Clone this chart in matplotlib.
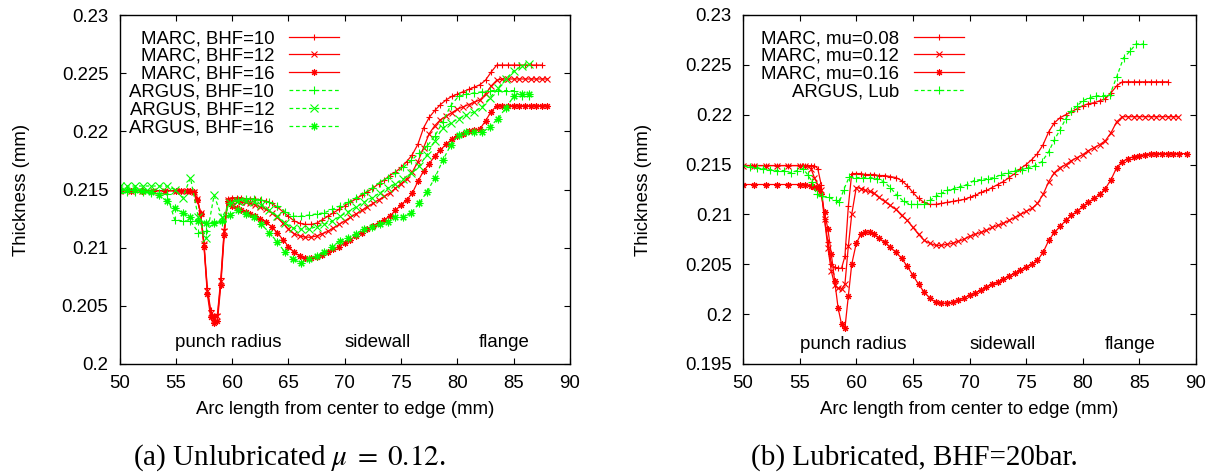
import matplotlib
matplotlib.use('Agg')
import matplotlib.pyplot as plt
from matplotlib.ticker import FuncFormatter, MultipleLocator

plt.rcParams['font.family'] = ['Liberation Sans', 'DejaVu Sans']
plt.rcParams['mathtext.fontset'] = 'stix'

# ---------------- data ----------------
# common MARC mesh positions (arc length, mm)
x_marc = [50, 51, 52, 53, 54, 55, 55.5, 56, 56.3, 56.6,
          56.9, 57.2, 57.5, 57.8, 58.1, 58.4, 58.7, 59.0, 59.3, 59.6,
          60.0, 60.4, 60.8, 61.2, 61.6, 62.0, 62.5, 63.0, 63.5, 64.0,
          64.5, 65.0, 65.5, 66.0, 66.5, 67.0, 67.5, 68.0, 68.5, 69.0,
          69.5, 70.0, 70.5, 71.0, 71.5, 72.0, 72.5, 73.0, 73.5, 74.0,
          74.5, 75.0, 75.5, 76.0, 76.5, 77.0, 77.5, 78.0, 78.5, 79.0,
          79.5, 80.0, 80.5, 81.0, 81.5, 82.0, 82.5, 83.0, 83.5, 84.0,
          84.5, 85.0, 85.5, 86.0, 86.5, 87.0, 87.5]

# ---- panel (a): unlubricated ----
a_marc_bhf10 = [0.2149, 0.2149, 0.2149, 0.2149, 0.2149, 0.2149, 0.2149, 0.2149, 0.2149, 0.2148,
                0.2142, 0.2130, 0.2104, 0.2065, 0.2046, 0.2041, 0.2043, 0.2074, 0.2116, 0.2142,
                0.2143, 0.2143, 0.2143, 0.2142, 0.2142, 0.2142, 0.2141, 0.2140, 0.2138, 0.2135,
                0.2131, 0.2127, 0.2123, 0.2121, 0.2120, 0.2120, 0.2121, 0.2124, 0.2127, 0.2130,
                0.2133, 0.2136, 0.2139, 0.2142, 0.2145, 0.2148, 0.2151, 0.2155, 0.2158, 0.2162,
                0.2165, 0.2169, 0.2174, 0.2180, 0.2189, 0.2203, 0.2212, 0.2218, 0.2223, 0.2227,
                0.2230, 0.2232, 0.2234, 0.2236, 0.2238, 0.2240, 0.2244, 0.2251, 0.2257, 0.2257,
                0.2257, 0.2257, 0.2257, 0.2257, 0.2257, 0.2257, 0.2257]
a_marc_bhf12 = [0.2149, 0.2149, 0.2149, 0.2149, 0.2149, 0.2149, 0.2149, 0.2149, 0.2149, 0.2148,
                0.2142, 0.2130, 0.2103, 0.2063, 0.2044, 0.2039, 0.2041, 0.2071, 0.2114, 0.2141,
                0.2140, 0.2140, 0.2139, 0.2139, 0.2138, 0.2137, 0.2135, 0.2133, 0.2130, 0.2126,
                0.2121, 0.2116, 0.2112, 0.2110, 0.2109, 0.2109, 0.2110, 0.2112, 0.2114, 0.2117,
                0.2120, 0.2123, 0.2126, 0.2129, 0.2132, 0.2135, 0.2138, 0.2141, 0.2144, 0.2147,
                0.2151, 0.2155, 0.2159, 0.2165, 0.2174, 0.2186, 0.2198, 0.2205, 0.2210, 0.2213,
                0.2216, 0.2219, 0.2221, 0.2223, 0.2225, 0.2227, 0.2232, 0.2239, 0.2244, 0.2245,
                0.2245, 0.2245, 0.2245, 0.2245, 0.2245, 0.2245, 0.2245, 0.2245]
a_marc_bhf16 = [0.2149, 0.2149, 0.2149, 0.2149, 0.2149, 0.2149, 0.2149, 0.2149, 0.2149, 0.2148,
                0.2141, 0.2129, 0.2101, 0.2060, 0.2040, 0.2035, 0.2037, 0.2068, 0.2111, 0.2140,
                0.2136, 0.2134, 0.2132, 0.2131, 0.2129, 0.2127, 0.2125, 0.2122, 0.2118, 0.2113,
                0.2107, 0.2101, 0.2096, 0.2093, 0.2091, 0.2091, 0.2092, 0.2094, 0.2096, 0.2099,
                0.2101, 0.2104, 0.2107, 0.2110, 0.2113, 0.2116, 0.2119, 0.2121, 0.2124, 0.2127,
                0.2132, 0.2137, 0.2141, 0.2147, 0.2157, 0.2166, 0.2172, 0.2179, 0.2184, 0.2189,
                0.2193, 0.2196, 0.2198, 0.2200, 0.2201, 0.2202, 0.2209, 0.2217, 0.2222, 0.2222,
                0.2222, 0.2222, 0.2222, 0.2222, 0.2222, 0.2222, 0.2222, 0.2222]
a_marc_tail = [88.0]

x_argus_a = [50.0, 50.7, 51.4, 52.1, 52.8, 53.5, 54.2, 54.9, 55.6, 56.3,
             57.0, 57.7, 58.4, 59.1, 59.8, 60.5, 61.2, 61.9, 62.6, 63.3,
             64.0, 64.7, 65.4, 66.1, 66.8, 67.5, 68.2, 68.9, 69.6, 70.3,
             71.0, 71.7, 72.4, 73.1, 73.8, 74.5, 75.2, 75.9, 76.6, 77.3,
             78.0, 78.7, 79.4, 80.1, 80.8, 81.5, 82.2, 82.9, 83.6, 84.3,
             85.0, 85.7, 86.4]
a_argus_bhf10 = [0.2147, 0.2148, 0.2148, 0.2148, 0.2147, 0.2147, 0.2146, 0.2124, 0.2123, 0.2123,
                 0.2113, 0.2114, 0.2122, 0.2122, 0.2138, 0.2141, 0.2142, 0.2142, 0.2141, 0.2139,
                 0.2136, 0.2131, 0.2127, 0.2127, 0.2128, 0.2129, 0.2130, 0.2133, 0.2136, 0.2139,
                 0.2143, 0.2147, 0.2151, 0.2156, 0.2160, 0.2164, 0.2169, 0.2175, 0.2181, 0.2187,
                 0.2196, 0.2208, 0.2222, 0.2230, 0.2232, 0.2233, 0.2234, 0.2235, 0.2235, 0.2235,
                 0.2235, 0.2230, 0.2230]
a_argus_bhf12 = [0.2153, 0.2153, 0.2153, 0.2153, 0.2153, 0.2153, 0.2153, 0.2150, 0.2143, 0.2160,
                 0.2126, 0.2108, 0.2145, 0.2126, 0.2138, 0.2140, 0.2140, 0.2139, 0.2137, 0.2132,
                 0.2127, 0.2121, 0.2117, 0.2116, 0.2116, 0.2118, 0.2120, 0.2123, 0.2127, 0.2131,
                 0.2135, 0.2139, 0.2143, 0.2147, 0.2151, 0.2155, 0.2159, 0.2164, 0.2170, 0.2180,
                 0.2192, 0.2203, 0.2207, 0.2211, 0.2214, 0.2217, 0.2221, 0.2229, 0.2237, 0.2245,
                 0.2252, 0.2256, 0.2258]
a_argus_bhf16 = [0.2150, 0.2150, 0.2150, 0.2149, 0.2148, 0.2145, 0.2140, 0.2134, 0.2130, 0.2126,
                 0.2123, 0.2121, 0.2121, 0.2123, 0.2128, 0.2132, 0.2129, 0.2126, 0.2120, 0.2113,
                 0.2105, 0.2096, 0.2090, 0.2087, 0.2090, 0.2093, 0.2096, 0.2101, 0.2106, 0.2108,
                 0.2112, 0.2116, 0.2118, 0.2120, 0.2122, 0.2126, 0.2126, 0.2130, 0.2138, 0.2148,
                 0.2160, 0.2175, 0.2188, 0.2197, 0.2199, 0.2199, 0.2199, 0.2204, 0.2211, 0.2220,
                 0.2230, 0.2232, 0.2232]

# ---- panel (b): lubricated ----
b_marc_mu08 = [0.2149, 0.2149, 0.2149, 0.2149, 0.2149, 0.2149, 0.2149, 0.2149, 0.2149, 0.2146,
               0.2130, 0.2095, 0.2072, 0.2050, 0.2047, 0.2046, 0.2046, 0.2058, 0.2108, 0.2141,
               0.2141, 0.2141, 0.2140, 0.2140, 0.2140, 0.2139, 0.2139, 0.2138, 0.2137, 0.2134,
               0.2129, 0.2122, 0.2116, 0.2112, 0.2110, 0.2110, 0.2111, 0.2112, 0.2113, 0.2114,
               0.2115, 0.2117, 0.2119, 0.2122, 0.2124, 0.2127, 0.2130, 0.2133, 0.2137, 0.2141,
               0.2146, 0.2150, 0.2155, 0.2161, 0.2170, 0.2183, 0.2192, 0.2197, 0.2200, 0.2203,
               0.2206, 0.2209, 0.2211, 0.2212, 0.2214, 0.2216, 0.2222, 0.2229, 0.2233, 0.2233,
               0.2233, 0.2233, 0.2233, 0.2233, 0.2233, 0.2233, 0.2233]
b_marc_mu12 = [0.2149, 0.2149, 0.2149, 0.2149, 0.2149, 0.2149, 0.2149, 0.2146, 0.2137, 0.2130,
               0.2124, 0.2095, 0.2066, 0.2043, 0.2029, 0.2026, 0.2025, 0.2030, 0.2068, 0.2100,
               0.2127, 0.2126, 0.2124, 0.2123, 0.2121, 0.2117, 0.2113, 0.2109, 0.2105, 0.2099,
               0.2094, 0.2087, 0.2080, 0.2074, 0.2071, 0.2069, 0.2069, 0.2070, 0.2071, 0.2073,
               0.2075, 0.2078, 0.2080, 0.2082, 0.2084, 0.2087, 0.2089, 0.2091, 0.2094, 0.2097,
               0.2100, 0.2103, 0.2106, 0.2111, 0.2120, 0.2133, 0.2142, 0.2147, 0.2150, 0.2154,
               0.2157, 0.2160, 0.2164, 0.2167, 0.2170, 0.2174, 0.2182, 0.2193, 0.2198, 0.2198,
               0.2198, 0.2198, 0.2198, 0.2198, 0.2198, 0.2198, 0.2198, 0.2198, 0.2198]
b_marc_mu16 = [0.2130, 0.2130, 0.2130, 0.2130, 0.2130, 0.2130, 0.2130, 0.2129, 0.2128, 0.2127,
               0.2120, 0.2102, 0.2085, 0.2060, 0.2033, 0.2006, 0.1990, 0.1986, 0.2018, 0.2050,
               0.2071, 0.2080, 0.2082, 0.2082, 0.2080, 0.2076, 0.2072, 0.2067, 0.2062, 0.2056,
               0.2048, 0.2039, 0.2030, 0.2022, 0.2016, 0.2012, 0.2011, 0.2011, 0.2012, 0.2014,
               0.2016, 0.2019, 0.2021, 0.2024, 0.2027, 0.2030, 0.2032, 0.2035, 0.2038, 0.2041,
               0.2044, 0.2047, 0.2050, 0.2054, 0.2062, 0.2074, 0.2082, 0.2088, 0.2094, 0.2099,
               0.2103, 0.2108, 0.2112, 0.2116, 0.2120, 0.2126, 0.2135, 0.2147, 0.2153, 0.2156,
               0.2158, 0.2159, 0.2160, 0.2161, 0.2161, 0.2161, 0.2161, 0.2161, 0.2161, 0.2161]
b_tail_mu12 = [88.0, 88.4]
b_tail_mu16 = [88.0, 88.5, 89.2]

x_argus_b = [50.0, 50.6, 51.2, 51.8, 52.4, 53.0, 53.6, 54.2, 54.8, 55.3,
             55.7, 56.1, 56.5, 57.0, 57.6, 58.2, 58.5, 58.9, 59.4, 60.0,
             60.6, 61.2, 61.8, 62.4, 63.0, 63.6, 64.2, 64.8, 65.4, 66.0,
             66.5, 67.0, 67.5, 68.0, 68.6, 69.2, 69.8, 70.4, 71.0, 71.6,
             72.2, 72.8, 73.4, 74.0, 74.6, 75.2, 75.8, 76.4, 77.0, 77.5,
             78.0, 78.5, 79.0, 79.5, 80.0, 80.6, 81.2, 81.8, 82.4, 83.0,
             83.6, 84.2, 84.7, 85.3]
b_argus_lub = [0.2149, 0.2148, 0.2147, 0.2146, 0.2145, 0.2144, 0.2144, 0.2142, 0.2144, 0.2146,
               0.2140, 0.2133, 0.2120, 0.2118, 0.2117, 0.2114, 0.2112, 0.2125, 0.2138, 0.2137,
               0.2137, 0.2137, 0.2136, 0.2133, 0.2127, 0.2119, 0.2113, 0.2110, 0.2110, 0.2110,
               0.2114, 0.2118, 0.2121, 0.2124, 0.2126, 0.2128, 0.2130, 0.2134, 0.2135, 0.2136,
               0.2137, 0.2140, 0.2142, 0.2144, 0.2145, 0.2147, 0.2149, 0.2153, 0.2163, 0.2175,
               0.2185, 0.2196, 0.2204, 0.2209, 0.2214, 0.2217, 0.2219, 0.2219, 0.2220, 0.2238,
               0.2257, 0.2264, 0.2271, 0.2271]

labels_a = ['MARC, BHF=10', 'MARC, BHF=12', 'MARC, BHF=16',
            'ARGUS, BHF=10', 'ARGUS, BHF=12', 'ARGUS, BHF=16']
labels_b = ['MARC, mu=0.08', 'MARC, mu=0.12', 'MARC, mu=0.16', 'ARGUS, Lub']
regions = ['punch radius', 'sidewall', 'flange']
region_x = [59.7, 72.9, 84.2]
xlabel = 'Arc length from center to edge (mm)'
ylabel = 'Thickness (mm)'
caption_a = r'(a) Unlubricated $\mu\;=\;0.12$.'
caption_b = '(b) Lubricated, BHF=20bar.'

# ---------------- styling ----------------
RED = '#ff0000'
GREEN = '#00ff00'
FS = 13.4
ASTER = (8, 2, 0)
marc_kw = dict(color=RED, lw=0.9, ms=4.8, mew=0.8, linestyle='-')
argus_kw = dict(color=GREEN, lw=0.9, ms=5.5, mew=0.8, linestyle=(0, (3, 2.2)))

fig = plt.figure(figsize=(12.17, 4.74), dpi=100)
W, H = 1217.0, 474.0
axA = fig.add_axes([119.5 / W, (H - 364) / H, 450.5 / W, 349 / H])
axB = fig.add_axes([743 / W, (H - 364) / H, 453 / W, 349 / H])

# panel (a)
axA.plot(x_marc, a_marc_bhf10, marker='+', label=labels_a[0], **marc_kw)
axA.plot(x_marc + a_marc_tail, a_marc_bhf12, marker='x', label=labels_a[1], **marc_kw)
axA.plot(x_marc + a_marc_tail, a_marc_bhf16, marker=ASTER, label=labels_a[2], **marc_kw)
axA.plot(x_argus_a, a_argus_bhf10, marker='+', label=labels_a[3], **argus_kw)
axA.plot(x_argus_a, a_argus_bhf12, marker='x', label=labels_a[4], **argus_kw)
axA.plot(x_argus_a, a_argus_bhf16, marker=ASTER, label=labels_a[5], **argus_kw)

# panel (b)
axB.plot(x_marc, b_marc_mu08, marker='+', label=labels_b[0], **marc_kw)
axB.plot(x_marc + b_tail_mu12, b_marc_mu12, marker='x', label=labels_b[1], **marc_kw)
axB.plot(x_marc + b_tail_mu16, b_marc_mu16, marker=ASTER, label=labels_b[2], **marc_kw)
axB.plot(x_argus_b, b_argus_lub, marker='+', label=labels_b[3], **argus_kw)

fmt = FuncFormatter(lambda v, p: '%g' % round(v, 4))
for ax, ylo, txt_y in ((axA, 0.2, 0.20146), (axB, 0.195, 0.1965)):
    ax.set_xlim(50, 90)
    ax.set_ylim(ylo, 0.23)
    ax.xaxis.set_major_locator(MultipleLocator(5))
    ax.yaxis.set_major_locator(MultipleLocator(0.005))
    ax.yaxis.set_major_formatter(fmt)
    ax.tick_params(direction='in', length=4.5, width=0.8, top=True, right=True,
                   labelsize=FS, pad=8, colors='black')
    for s in ax.spines.values():
        s.set_linewidth(1.0)
    ax.set_xlabel(xlabel, fontsize=FS)
    ax.set_ylabel(ylabel, fontsize=FS)
    ax.xaxis.set_label_coords(0.5, -0.105)
    for name, xr in zip(regions, region_x):
        ax.text(xr, txt_y, name, ha='center', va='baseline', fontsize=FS)
    leg = ax.legend(loc='upper right', bbox_to_anchor=(0.488, 0.957), markerfirst=False,
                    frameon=False, fontsize=FS, handlelength=2.7, handletextpad=0.8,
                    labelspacing=0.05, borderpad=0, borderaxespad=0, numpoints=1)

axA.yaxis.set_label_coords(-0.199, 0.5)
axB.yaxis.set_label_coords(-0.201, 0.5)

fig.text(289.5 / W, 1 - 465 / H, caption_a, ha='center', va='baseline',
         fontsize=21, family=['Liberation Serif', 'DejaVu Serif'])
fig.text(914 / W, 1 - 465 / H, caption_b, ha='center', va='baseline',
         fontsize=21, family=['Liberation Serif', 'DejaVu Serif'])

fig.savefig('out.png', dpi=100)
